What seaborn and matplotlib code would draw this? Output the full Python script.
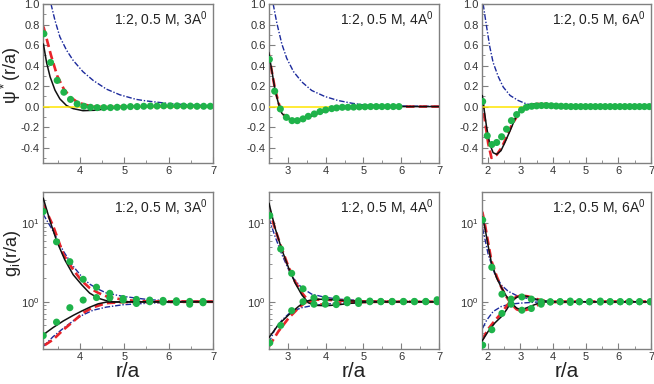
import numpy as np
import seaborn as sns
import matplotlib
matplotlib.use('Agg')
import matplotlib.pyplot as plt
from matplotlib.ticker import MultipleLocator, LogLocator, NullFormatter

# ---------------- data ----------------
# top row: psi*(r/a)
r1_blk = [3.18, 3.25, 3.33, 3.44, 3.55, 3.70, 3.85, 4.07, 4.38, 4.67, 5.0, 5.5, 7.0]
p1_blk = [0.61, 0.43, 0.29, 0.16, 0.075, 0.01, -0.02, -0.04, -0.035, -0.015, -0.005, 0.0, 0.0]
r1_red = [3.18, 3.35, 3.49, 3.64, 3.79, 3.94, 4.10, 4.30, 4.60, 5.0, 7.0]
p1_red = [0.78, 0.50, 0.30, 0.17, 0.09, 0.045, 0.02, 0.0, -0.005, 0.0, 0.0]
r1_blu = [3.35, 3.44, 3.55, 3.70, 3.85, 4.07, 4.30, 4.60, 4.90, 5.27, 5.5, 6.0, 6.5, 7.0]
p1_blu = [1.0, 0.84, 0.68, 0.55, 0.45, 0.34, 0.255, 0.17, 0.115, 0.07, 0.055, 0.03, 0.015, 0.01]
r1_dot = [3.19, 3.34, 3.49, 3.64, 3.79, 3.94, 4.09, 4.24, 4.39, 4.54, 4.69, 4.84, 4.99,
          5.14, 5.29, 5.44, 5.59, 5.74, 5.89, 6.04, 6.19, 6.34, 6.49, 6.64, 6.79, 6.94]
p1_dot = [0.71, 0.43, 0.255, 0.14, 0.07, 0.026, 0.003, -0.007, -0.01, -0.01, -0.01, -0.007, -0.005,
          0.0, 0.0, 0.003, 0.005, 0.005, 0.007, 0.007, 0.007, 0.005, 0.005, 0.003, 0.003, 0.003]
r1_yel = [3.17, 7.0]

r2_blk = [2.49, 2.58, 2.66, 2.75, 2.84, 2.97, 3.15, 3.28, 3.54, 3.81, 4.07, 4.33, 4.7, 5.5, 7.0]
p2_blk = [0.53, 0.34, 0.16, 0.03, -0.065, -0.11, -0.137, -0.137, -0.105, -0.065, -0.033, -0.013, -0.003, 0.0, 0.0]
r2_red = [2.49, 2.58, 2.66, 2.75, 2.84, 2.97, 3.15, 3.28, 3.54, 3.81, 4.07, 4.33, 4.7, 5.5, 7.0]
p2_red = [0.52, 0.33, 0.17, 0.04, -0.06, -0.11, -0.135, -0.135, -0.10, -0.06, -0.03, -0.012, -0.003, 0.0, 0.0]
r2_blu = [2.61, 2.71, 2.84, 2.97, 3.15, 3.37, 3.63, 3.98, 4.33, 4.69, 5.0, 6.0, 7.0]
p2_blu = [1.0, 0.81, 0.61, 0.47, 0.34, 0.24, 0.157, 0.098, 0.059, 0.033, 0.016, 0.006, 0.002]
r2_dot = [2.51, 2.65, 2.80, 2.96, 3.11, 3.25, 3.40, 3.54, 3.70, 3.85, 4.00, 4.16,
          4.29, 4.44, 4.59, 4.74, 4.89, 5.04, 5.19, 5.34, 5.49, 5.64, 5.79, 5.94]
p2_dot = [0.46, 0.15, -0.023, -0.105, -0.137, -0.137, -0.12, -0.095, -0.072, -0.049, -0.033, -0.02,
          -0.013, -0.007, -0.007, -0.005, -0.003, -0.002, 0.0, 0.0, 0.0, 0.0, 0.0, 0.0]
r2_yel = [2.5, 6.0]

r3_blk = [1.84, 1.90, 1.97, 2.07, 2.17, 2.28, 2.41, 2.53, 2.69, 2.84, 2.99, 3.14, 3.45, 3.76, 4.06, 4.5, 7.0]
p3_blk = [0.108, -0.04, -0.2, -0.366, -0.45, -0.465, -0.43, -0.35, -0.235, -0.12, -0.04, 0.007, 0.026, 0.026, 0.01, 0.0, 0.0]
r3_red = [1.84, 1.92, 2.02, 2.12, 2.28, 2.43, 2.58, 2.73, 2.94, 3.14, 3.40, 3.66, 4.0, 4.5, 7.0]
p3_red = [0.06, -0.14, -0.36, -0.50, -0.47, -0.40, -0.30, -0.186, -0.072, -0.007, 0.02, 0.03, 0.015, 0.0, 0.0]
r3_blu = [1.865, 1.97, 2.07, 2.17, 2.33, 2.48, 2.69, 2.94, 3.19, 3.5, 4.0, 7.0]
p3_blu = [1.0, 0.78, 0.58, 0.43, 0.29, 0.19, 0.108, 0.059, 0.026, 0.01, 0.003, 0.0]
r3_dot = [1.85, 1.99, 2.13, 2.28, 2.43, 2.58, 2.73, 2.89, 3.04, 3.19, 3.35, 3.50, 3.65, 3.80, 3.95, 4.10,
          4.25, 4.40, 4.55, 4.70, 4.85, 5.00, 5.15, 5.30, 5.45, 5.60, 5.75, 5.90, 6.05, 6.20, 6.35, 6.50,
          6.65, 6.80, 6.95]
p3_dot = [0.05, -0.285, -0.37, -0.35, -0.294, -0.22, -0.137, -0.078, -0.033, -0.007, 0.003, 0.007, 0.01, 0.01,
          0.008, 0.005, 0.003, 0.002, 0.0, 0.0, 0.0, 0.0, 0.0, 0.0, 0.0, 0.0, 0.0, 0.0, 0.0, 0.0, 0.0, 0.0,
          0.0, 0.0, 0.0]
r3_yel = [1.85, 5.5]

# bottom row: g_i(r/a), two branches per model
q1_blk_up_r = [3.175, 3.33, 3.48, 3.66, 3.85, 4.04, 4.22, 4.41, 4.60, 4.8, 5.0, 7.0]
q1_blk_up = [20.9, 10.6, 5.9, 3.43, 2.21, 1.65, 1.29, 1.11, 1.03, 0.99, 0.99, 1.0]
q1_blk_lo_r = [3.175, 3.40, 3.63, 3.85, 4.04, 4.22, 4.41, 4.6, 5.0, 7.0]
q1_blk_lo = [0.38, 0.47, 0.57, 0.67, 0.76, 0.85, 0.94, 0.99, 1.0, 1.0]
q1_red_up_r = [3.175, 3.40, 3.63, 3.85, 4.04, 4.22, 4.41, 4.6, 5.0, 5.5, 7.0]
q1_red_up = [17.3, 9.2, 4.0, 2.56, 1.85, 1.5, 1.3, 1.17, 1.05, 1.01, 1.0]
q1_red_lo_r = [3.21, 3.40, 3.63, 3.85, 4.07, 4.30, 4.60, 5.0, 7.0]
q1_red_lo = [0.28, 0.33, 0.44, 0.56, 0.72, 0.85, 0.96, 0.99, 1.0]
q1_blu_up_r = [3.175, 3.40, 3.63, 3.85, 4.07, 4.22, 4.41, 4.60, 4.97, 5.57, 6.0, 7.0]
q1_blu_up = [13, 7.9, 4.4, 2.83, 2.0, 1.68, 1.45, 1.29, 1.17, 1.06, 1.03, 1.01]
q1_blu_lo_r = [3.175, 3.40, 3.63, 3.85, 4.07, 4.30, 4.60, 4.97, 5.57, 6.0, 7.0]
q1_blu_lo = [0.27, 0.36, 0.46, 0.57, 0.68, 0.78, 0.855, 0.915, 0.96, 0.98, 0.99]
q1_dot_r = [3.175, 3.475, 3.775, 4.075, 4.375, 4.675, 4.975, 5.275, 5.575, 5.875, 6.175, 6.475, 6.775]
q1_dot_up = [14.1, 5.8, 3.24, 1.93, 1.53, 1.28, 1.10, 1.07, 1.05, 1.04, 1.03, 1.01, 1.01]
q1_dot_lo = [0.37, 0.55, 0.84, 1.05, 1.13, 1.12, 1.05, 0.95, 1.0, 0.99, 0.98, 0.93, 0.97]

q2_blk_up_r = [2.5, 2.66, 2.84, 3.02, 3.19, 3.37, 3.54, 3.72, 4.0, 4.3, 4.6, 5.0, 5.5, 7.0]
q2_blk_up = [18, 8.7, 4.6, 2.69, 1.74, 1.22, 0.97, 0.9, 0.89, 0.91, 0.95, 0.98, 1.0, 1.0]
q2_blk_lo_r = [2.5, 2.75, 3.02, 3.28, 3.46, 3.72, 4.0, 4.3, 4.6, 5.0, 5.5, 7.0]
q2_blk_lo = [0.35, 0.51, 0.68, 0.87, 1.01, 1.08, 1.07, 1.05, 1.03, 1.01, 1.0, 1.0]
q2_red_up_r = [2.5, 2.66, 2.84, 3.02, 3.19, 3.37, 3.54, 3.72, 4.0, 4.3, 4.6, 5.0, 5.5, 7.0]
q2_red_up = [15.5, 8.5, 4.7, 2.75, 1.8, 1.3, 1.03, 0.93, 0.92, 0.94, 0.97, 0.99, 1.0, 1.0]
q2_red_lo_r = [2.5, 2.75, 3.02, 3.28, 3.46, 3.72, 4.0, 4.3, 4.6, 5.0, 5.5, 7.0]
q2_red_lo = [0.27, 0.42, 0.62, 0.83, 0.98, 1.06, 1.06, 1.04, 1.02, 1.01, 1.0, 1.0]
q2_blu_up_r = [2.5, 2.66, 2.84, 3.1, 3.37, 3.63, 3.98, 4.34, 5.0, 6.0, 7.0]
q2_blu_up = [11.5, 6.8, 4.0, 2.1, 1.5, 1.25, 1.14, 1.08, 1.03, 1.01, 1.0]
q2_blu_lo_r = [2.5, 2.66, 2.84, 3.02, 3.19, 3.37, 3.63, 3.98, 4.34, 5.0, 6.0, 7.0]
q2_blu_lo = [0.3, 0.45, 0.58, 0.7, 0.78, 0.84, 0.89, 0.93, 0.96, 0.98, 0.99, 1.0]
q2_dot_r = [2.52, 2.81, 3.10, 3.40, 3.69, 3.99, 4.28, 4.57, 4.87, 5.17, 5.46, 5.76, 6.06, 6.35, 6.65, 6.95]
q2_dot_up = [12.5, 4.7, 2.3, 1.46, 1.12, 1.1, 1.1, 1.06, 1.03, 1.02, 1.01, 1.01, 1.01, 1.01, 1.01, 1.06]
q2_dot_lo = [0.30, 0.50, 0.77, 1.0, 0.93, 0.93, 0.92, 0.97, 0.95, 1.0, 1.0, 1.0, 1.0, 1.0, 1.0, 1.0]

q3_blk_up_r = [1.84, 1.92, 2.02, 2.12, 2.28, 2.43, 2.58, 2.73, 2.89, 3.04, 3.24, 3.45, 3.65, 4.0, 7.0]
q3_blk_up = [12, 8.7, 5.1, 3.1, 2.0, 1.5, 1.17, 0.96, 0.83, 0.79, 0.85, 0.92, 0.99, 1.0, 1.0]
q3_blk_lo_r = [1.82, 2.02, 2.23, 2.43, 2.58, 2.73, 2.89, 3.04, 3.24, 3.45, 3.65, 4.0, 7.0]
q3_blk_lo = [0.31, 0.42, 0.54, 0.65, 0.79, 1.0, 1.14, 1.2, 1.16, 1.09, 1.03, 1.0, 1.0]
q3_red_up_r = [1.84, 1.92, 2.02, 2.12, 2.28, 2.43, 2.58, 2.73, 2.89, 3.04, 3.24, 3.45, 3.65, 4.0, 4.5, 7.0]
q3_red_up = [14, 9.6, 5.6, 3.3, 2.1, 1.5, 1.15, 0.93, 0.8, 0.76, 0.8, 0.88, 0.95, 0.99, 1.0, 1.0]
q3_red_lo_r = [1.84, 2.02, 2.23, 2.43, 2.58, 2.73, 2.89, 3.04, 3.24, 3.45, 3.65, 4.0, 7.0]
q3_red_lo = [0.33, 0.45, 0.58, 0.72, 0.88, 1.05, 1.16, 1.2, 1.17, 1.1, 1.04, 1.0, 1.0]
q3_blu_up_r = [1.85, 1.93, 2.02, 2.23, 2.43, 2.63, 2.94, 3.24, 3.65, 4.0, 7.0]
q3_blu_up = [8.6, 6.0, 4.0, 2.2, 1.62, 1.36, 1.17, 1.1, 1.03, 1.0, 1.0]
q3_blu_lo_r = [1.85, 1.97, 2.17, 2.42, 2.68, 3.0, 3.5, 4.0, 7.0]
q3_blu_lo = [0.46, 0.58, 0.75, 0.87, 0.93, 0.96, 0.99, 1.0, 1.0]
q3_dot_r = [1.85, 2.13, 2.44, 2.72, 3.05, 3.34, 3.64, 3.92, 4.22, 4.53, 4.81, 5.12, 5.45, 5.75, 6.06, 6.34, 6.65, 6.98]
q3_dot_up = [11, 2.75, 1.25, 1.08, 1.15, 1.08, 1.0, 1.0, 1.0, 1.02, 1.0, 1.0, 1.02, 1.0, 1.0, 1.0, 1.0, 1.0]
q3_dot_lo = [0.28, 0.44, 0.71, 0.93, 0.78, 0.82, 0.93, 0.99, 1.0, 0.98, 1.0, 1.0, 0.99, 1.0, 1.0, 1.0, 1.0, 1.0]

labels = ["1:2, 0.5 M, 3A$^0$", "1:2, 0.5 M, 4A$^0$", "1:2, 0.5 M, 6A$^0$"]
xlims = [(3.17, 7.0), (2.5, 7.0), (1.83, 7.0)]
xmajor = [[4, 5, 6, 7], [3, 4, 5, 6, 7], [2, 3, 4, 5, 6, 7]]

# ---------------- style ----------------
sns.set_style("ticks")
plt.rcParams['font.family'] = ['Liberation Sans', 'DejaVu Sans']
plt.rcParams['mathtext.default'] = 'regular'

BLACK = "#111111"
RED = "#e8232a"
BLUE = "#1c2a9c"
GREEN = "#1fb34a"
YELLOW = "#ffe600"
GRAY = "#808080"

dash_red = (0, (3.2, 1.6))
dash_blue = (0, (4, 1.3, 1, 1.3))


def style_axes(ax, xlim, xt):
    ax.set_xlim(*xlim)
    ax.set_xticks(xt)
    ax.xaxis.set_minor_locator(MultipleLocator(0.5))
    for s in ax.spines.values():
        s.set_color(GRAY)
        s.set_linewidth(1.0)
    ax.tick_params(which='both', direction='in', colors=GRAY, labelcolor="#333333",
                   labelsize=8, top=False, right=False)
    ax.tick_params(which='major', length=4, width=0.8, pad=2.5)
    ax.tick_params(which='minor', length=2, width=0.6)
    ax.set_xlabel("")
    ax.set_ylabel("")


def line(ax, x, y, kind):
    if kind == "black":
        sns.lineplot(x=x, y=y, ax=ax, color=BLACK, lw=1.1, estimator=None, sort=False, zorder=3)
    elif kind == "red":
        sns.lineplot(x=x, y=y, ax=ax, color=RED, lw=1.9, linestyle=dash_red, estimator=None, sort=False, zorder=2)
    elif kind == "blue":
        sns.lineplot(x=x, y=y, ax=ax, color=BLUE, lw=1.0, linestyle=dash_blue, estimator=None, sort=False, zorder=2)


def dots(ax, x, y):
    sns.scatterplot(x=x, y=y, ax=ax, color=GREEN, s=26, edgecolor='none', zorder=5)


fig = plt.figure(figsize=(6.54, 3.84), dpi=100)
lefts = [43 / 654, 269 / 654, 482 / 654]
widths = [170 / 654, 170 / 654, 169 / 654]
top_row = [fig.add_axes([l, 1 - 163 / 384, w, 159 / 384]) for l, w in zip(lefts, widths)]
bot_row = [fig.add_axes([l, 1 - 349 / 384, w, 157 / 384]) for l, w in zip(lefts, widths)]

top_data = [
    (r1_blk, p1_blk, r1_red, p1_red, r1_blu, p1_blu, r1_dot, p1_dot, r1_yel),
    (r2_blk, p2_blk, r2_red, p2_red, r2_blu, p2_blu, r2_dot, p2_dot, r2_yel),
    (r3_blk, p3_blk, r3_red, p3_red, r3_blu, p3_blu, r3_dot, p3_dot, r3_yel),
]
for i, ax in enumerate(top_row):
    rb, pb, rr, pr, ru, pu, rd, pd, ry = top_data[i]
    line(ax, ru, pu, "blue")
    line(ax, rr, pr, "red")
    line(ax, rb, pb, "black")
    sns.lineplot(x=ry, y=[0.0, 0.0], ax=ax, color=YELLOW, lw=1.1, estimator=None, zorder=4)
    dots(ax, rd, pd)
    style_axes(ax, xlims[i], xmajor[i])
    ax.set_ylim(-0.55, 1.0)
    ax.set_yticks([-0.4, -0.2, 0.0, 0.2, 0.4, 0.6, 0.8, 1.0])
    ax.set_yticklabels(["-0.4", "-0.2", "0.0", "0.2", "0.4", "0.6", "0.8", "1.0"])
    ax.yaxis.set_minor_locator(MultipleLocator(0.1))
    ax.text(0.97, 0.965, labels[i], transform=ax.transAxes, ha='right', va='top',
            fontsize=10, color="#222222")

bot_data = [
    (q1_blk_up_r, q1_blk_up, q1_blk_lo_r, q1_blk_lo, q1_red_up_r, q1_red_up, q1_red_lo_r, q1_red_lo,
     q1_blu_up_r, q1_blu_up, q1_blu_lo_r, q1_blu_lo, q1_dot_r, q1_dot_up, q1_dot_lo),
    (q2_blk_up_r, q2_blk_up, q2_blk_lo_r, q2_blk_lo, q2_red_up_r, q2_red_up, q2_red_lo_r, q2_red_lo,
     q2_blu_up_r, q2_blu_up, q2_blu_lo_r, q2_blu_lo, q2_dot_r, q2_dot_up, q2_dot_lo),
    (q3_blk_up_r, q3_blk_up, q3_blk_lo_r, q3_blk_lo, q3_red_up_r, q3_red_up, q3_red_lo_r, q3_red_lo,
     q3_blu_up_r, q3_blu_up, q3_blu_lo_r, q3_blu_lo, q3_dot_r, q3_dot_up, q3_dot_lo),
]
for i, ax in enumerate(bot_row):
    d = bot_data[i]
    ax.set_yscale('log')
    line(ax, d[8], d[9], "blue")
    line(ax, d[10], d[11], "blue")
    line(ax, d[4], d[5], "red")
    line(ax, d[6], d[7], "red")
    line(ax, d[0], d[1], "black")
    line(ax, d[2], d[3], "black")
    dots(ax, d[12], d[13])
    dots(ax, d[12], d[14])
    style_axes(ax, xlims[i], xmajor[i])
    ax.set_ylim(0.25, 25)
    ax.yaxis.set_major_locator(LogLocator(base=10))
    ax.yaxis.set_minor_locator(LogLocator(base=10, subs=np.arange(2, 10)))
    ax.yaxis.set_minor_formatter(NullFormatter())
    ax.text(0.97, 0.965, labels[i], transform=ax.transAxes, ha='right', va='top',
            fontsize=10, color="#222222")
    ax.set_xlabel("r/a", fontsize=15, color="#222222")
    ax.xaxis.label.set_verticalalignment('baseline')
    ax.xaxis.set_label_coords(0.5, -0.18)

top_row[0].set_ylabel("ψ$^*$(r/a)", fontsize=13, color="#222222")
top_row[0].yaxis.set_label_coords(-0.115, 0.55)
bot_row[0].set_ylabel("g$_i$(r/a)", fontsize=13, color="#222222")
bot_row[0].yaxis.set_label_coords(-0.115, 0.61)

fig.savefig("out.png", dpi=100)
